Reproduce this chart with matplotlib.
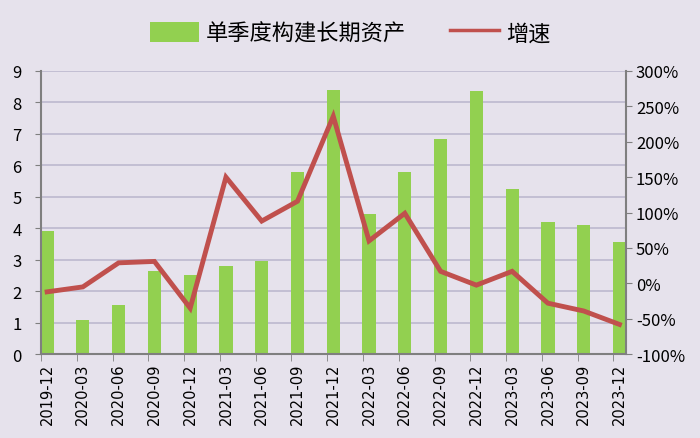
import matplotlib.pyplot as plt
import numpy as np
from matplotlib.ticker import FuncFormatter
from matplotlib.lines import Line2D

plt.rcParams['font.family'] = ['Noto Sans CJK SC', 'DejaVu Sans']

quarters = ['2019-12', '2020-03', '2020-06', '2020-09', '2020-12', '2021-03',
            '2021-06', '2021-09', '2021-12', '2022-03', '2022-06', '2022-09',
            '2022-12', '2023-03', '2023-06', '2023-09', '2023-12']
capex = [3.9, 1.1, 1.55, 2.65, 2.5, 2.8, 2.95, 5.8, 8.4, 4.45, 5.8, 6.85,
         8.35, 5.25, 4.2, 4.1, 3.55]
growth = [-12, -5, 29, 31, -35, 150, 88, 116, 236, 60, 99, 17, -2.5, 17,
          -28, -39, -58]

bg = '#E6E2EC'
grey = '#7F7F7F'

fig = plt.figure(figsize=(7, 4.39), dpi=100, facecolor=bg)
ax = fig.add_axes([0.0586, 0.191, 0.835, 0.645])
ax.set_facecolor(bg)
x = np.arange(len(quarters))

bars = ax.bar(x, capex, width=0.37, color='#92D050', zorder=2,
              label='单季度构建长期资产')
ax.set_ylim(0, 9)
ax.set_yticks(range(10))
ax.set_xlim(-0.17, len(quarters) - 0.83)
ax.grid(axis='y', color='#BDB8CE', linewidth=1.2, zorder=0)
ax.set_xticks(x)
ax.set_xticklabels(quarters, rotation=90, fontsize=10.5, family='DejaVu Sans')
ax.tick_params(axis='x', length=0, pad=6)
ax.set_xticks(x - 0.17, minor=True)
ax.tick_params(axis='x', which='minor', length=5, color=grey)
ax.tick_params(axis='y', labelsize=12, length=4, color=grey, pad=10)
for s in ['top', 'right']:
    ax.spines[s].set_visible(False)
for s in ['left', 'bottom']:
    ax.spines[s].set_color(grey)
    ax.spines[s].set_linewidth(1.5)

ax2 = ax.twinx()
ax2.plot(x, growth, color='#C0504D', linewidth=3.5, zorder=3,
         solid_joinstyle='miter')
ax2.set_ylim(-100, 300)
ax2.set_yticks(range(-100, 301, 50))
ax2.yaxis.set_major_formatter(FuncFormatter(lambda v, p: f'{int(v)}%'))
ax2.tick_params(axis='y', labelsize=12, length=4, color=grey)
for s in ['top', 'left', 'bottom']:
    ax2.spines[s].set_visible(False)
ax2.spines['right'].set_color(grey)
ax2.spines['right'].set_linewidth(1.5)

line_proxy = Line2D([], [], color='#C0504D', linewidth=2.5, label='增速')
fig.legend(handles=[bars, line_proxy], loc='upper center',
           bbox_to_anchor=(0.5, 0.995), ncol=2, frameon=False, fontsize=16,
           handlelength=2.2, handleheight=1.0, handletextpad=0.3,
           columnspacing=2.0)

fig.savefig('out.png', dpi=100, facecolor=bg)
